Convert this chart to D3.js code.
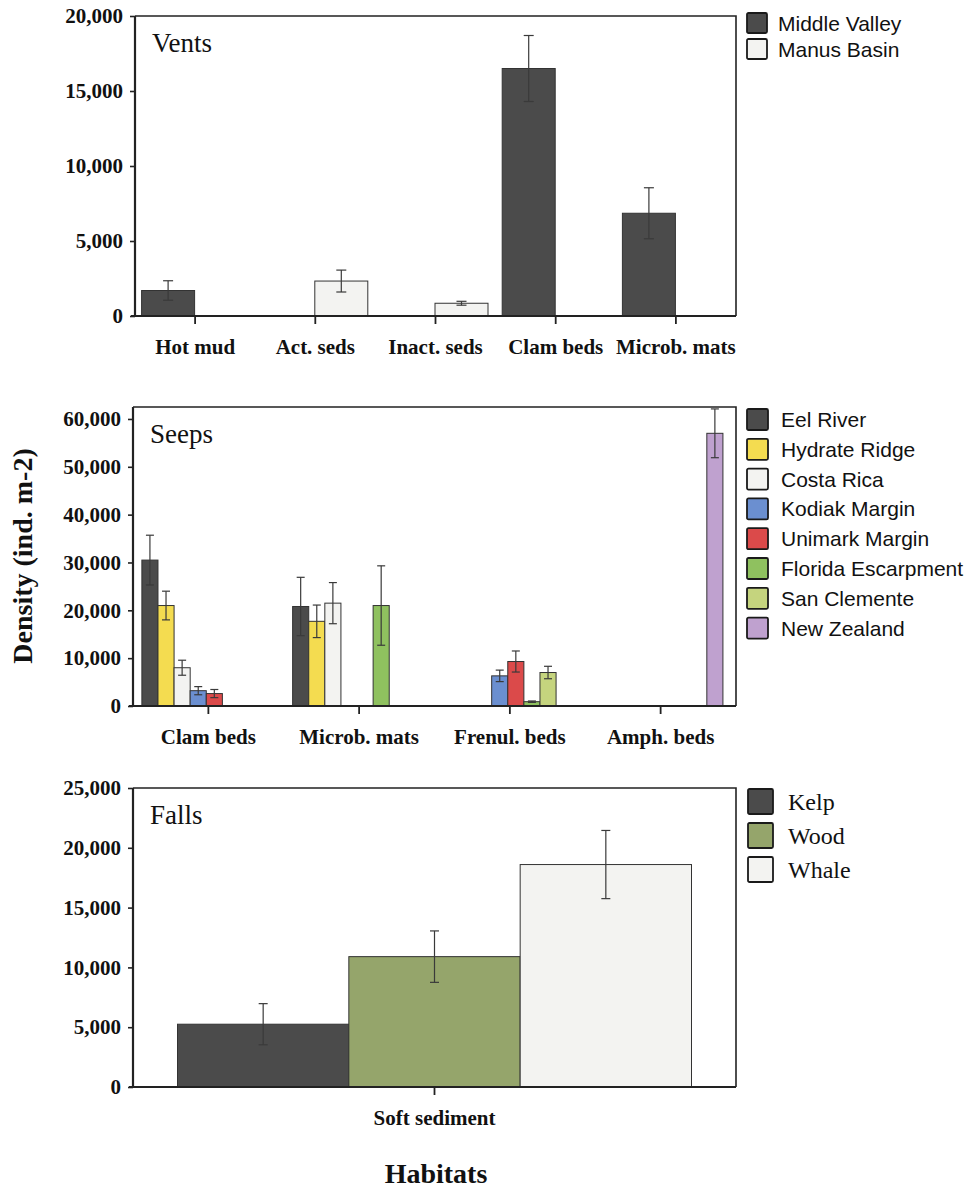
<!DOCTYPE html>
<html>
<head>
<meta charset="utf-8">
<script src="https://cdn.jsdelivr.net/npm/d3@7"></script>
<style>
  body { margin: 0; background: #fff; }
  svg { display: block; }
</style>
</head>
<body>
<script>
// ---- Vents ----
const ventHabitats = ["Hot mud", "Act. seds", "Inact. seds", "Clam beds", "Microb. mats"];
const ventSites = ["Middle Valley", "Manus Basin"];
const ventMiddleValley = [1700, null, null, 16500, 6850];
const ventMiddleValleyErr = [650, null, null, 2200, 1700];
const ventManusBasin = [null, 2330, 850, null, null];
const ventManusBasinErr = [null, 730, 130, null, null];
const ventTicks = [0, 5000, 10000, 15000, 20000];

// ---- Seeps ----
const seepHabitats = ["Clam beds", "Microb. mats", "Frenul. beds", "Amph. beds"];
const seepSites = ["Eel River", "Hydrate Ridge", "Costa Rica", "Kodiak Margin",
                   "Unimark Margin", "Florida Escarpment", "San Clemente", "New Zealand"];
const seepEelRiver = [30500, 20800, null, null];
const seepEelRiverErr = [5200, 6100, null, null];
const seepHydrateRidge = [21000, 17700, null, null];
const seepHydrateRidgeErr = [3000, 3400, null, null];
const seepCostaRica = [8000, 21500, null, null];
const seepCostaRicaErr = [1570, 4300, null, null];
const seepKodiakMargin = [3200, null, 6300, null];
const seepKodiakMarginErr = [850, null, 1200, null];
const seepUnimarkMargin = [2600, null, 9300, null];
const seepUnimarkMarginErr = [850, null, 2200, null];
const seepFloridaEscarpment = [null, 21000, 900, null];
const seepFloridaEscarpmentErr = [null, 8300, 150, null];
const seepSanClemente = [null, null, 7000, null];
const seepSanClementeErr = [null, null, 1300, null];
const seepNewZealand = [null, null, null, 57000];
const seepNewZealandErr = [null, null, null, 5100];
const seepTicks = [0, 10000, 20000, 30000, 40000, 50000, 60000];

// ---- Falls ----
const fallHabitats = ["Soft sediment"];
const fallSites = ["Kelp", "Wood", "Whale"];
const fallKelp = [5250];
const fallKelpErr = [1720];
const fallWood = [10900];
const fallWoodErr = [2150];
const fallWhale = [18600];
const fallWhaleErr = [2850];
const fallTicks = [0, 5000, 10000, 15000, 20000, 25000];

const W = 975, H = 1190;
const SERIF = "'Liberation Serif', 'Times New Roman', serif";
const SANS = "'Liberation Sans', Arial, sans-serif";
const INK = "#222";

const svg = d3.select("body").append("svg")
  .attr("width", W).attr("height", H)
  .attr("viewBox", `0 0 ${W} ${H}`);

function drawPanel(p) {
  const g = svg.append("g");
  const x = d3.scaleBand().domain(p.habitats).range([p.left, p.right]);
  const y = d3.scaleLinear().domain([0, p.yMax]).range([p.bottom, p.top]);
  const x1 = d3.scaleBand().domain(p.sites).range(p.groupRange);

  // rows of {habitat, site, value, err}
  const rows = [];
  p.sites.forEach((s, si) => {
    p.values[si].forEach((v, hi) => {
      if (v != null) rows.push({ habitat: p.habitats[hi], site: s, value: v, err: p.errors[si][hi] });
    });
  });

  // bars
  g.selectAll("rect.bar").data(rows).join("rect")
    .attr("class", "bar")
    .attr("x", d => x(d.habitat) + x.bandwidth() / 2 + x1(d.site))
    .attr("y", d => y(d.value))
    .attr("width", x1.bandwidth())
    .attr("height", d => y(0) - y(d.value))
    .attr("fill", d => p.colors[p.sites.indexOf(d.site)])
    .attr("stroke", "#333")
    .attr("stroke-width", 1);

  // error bars
  const eb = g.selectAll("g.err").data(rows.filter(d => d.err != null)).join("g")
    .attr("class", "err")
    .attr("transform", d => `translate(${x(d.habitat) + x.bandwidth() / 2 + x1(d.site) + x1.bandwidth() / 2},0)`)
    .attr("stroke", "#3a3a3a")
    .attr("stroke-width", 1.2);
  eb.append("line")
    .attr("y1", d => y(d.value + d.err)).attr("y2", d => y(Math.max(0, d.value - d.err)));
  eb.append("line")
    .attr("x1", -p.cap / 2).attr("x2", p.cap / 2)
    .attr("y1", d => y(d.value + d.err)).attr("y2", d => y(d.value + d.err));
  eb.append("line")
    .attr("x1", -p.cap / 2).attr("x2", p.cap / 2)
    .attr("y1", d => y(Math.max(0, d.value - d.err))).attr("y2", d => y(Math.max(0, d.value - d.err)));

  // frame (top and right edges)
  g.append("path")
    .attr("d", `M${p.left},${p.top}H${p.right}V${p.bottom}`)
    .attr("fill", "none").attr("stroke", INK).attr("stroke-width", 1.6);

  // y axis
  const ya = g.append("g").attr("transform", `translate(${p.left},0)`)
    .call(d3.axisLeft(y).tickValues(p.ticks).tickFormat(d3.format(",")).tickSize(5).tickPadding(7));
  ya.select(".domain").attr("d", `M0,${p.top}V${p.bottom}`).attr("stroke", INK).attr("stroke-width", 2.2);
  ya.selectAll(".tick line").attr("stroke", INK).attr("stroke-width", 1.6);
  ya.selectAll(".tick text").attr("fill", "#111")
    .style("font-family", SERIF).style("font-weight", "bold").style("font-size", "21px");

  // x axis
  const xa = g.append("g").attr("transform", `translate(0,${p.bottom})`)
    .call(d3.axisBottom(x).tickSize(8).tickPadding(15));
  xa.select(".domain").attr("d", `M${p.left - 4},0H${p.right}`).attr("stroke", INK).attr("stroke-width", 2.2);
  xa.selectAll(".tick line").attr("stroke", INK).attr("stroke-width", 1.8);
  xa.selectAll(".tick text").attr("fill", "#111")
    .style("font-family", SERIF).style("font-weight", "bold").style("font-size", "21px");

  // panel title
  g.append("text")
    .attr("x", p.left + 17).attr("y", p.top + 36)
    .attr("fill", "#111")
    .style("font-family", SERIF).style("font-size", "27px")
    .text(p.title);

  // legend
  const lg = g.append("g");
  const li = lg.selectAll("g").data(p.sites).join("g")
    .attr("transform", (d, i) => `translate(${p.legend.x},${p.legend.y + i * p.legend.step})`);
  li.append("rect")
    .attr("width", p.legend.size).attr("height", p.legend.size)
    .attr("rx", 1.5)
    .attr("fill", (d, i) => p.colors[i])
    .attr("stroke", "#1a1a1a").attr("stroke-width", 1.8);
  li.append("text")
    .attr("x", p.legend.size + p.legend.gap)
    .attr("y", p.legend.size / 2)
    .attr("dy", "0.36em")
    .attr("fill", "#111")
    .style("font-family", p.legend.font)
    .style("font-size", p.legend.fontSize + "px")
    .text(d => d);
}

const DARK = "#4b4b4b", LIGHT = "#f3f3f1";

drawPanel({
  title: "Vents",
  habitats: ventHabitats, sites: ventSites,
  values: [ventMiddleValley, ventManusBasin],
  errors: [ventMiddleValleyErr, ventManusBasinErr],
  colors: [DARK, LIGHT],
  ticks: ventTicks, yMax: 20000,
  left: 135, right: 736, top: 16, bottom: 316,
  groupRange: [-53.5, 52.5], cap: 10,
  legend: { x: 747, y: 13, step: 26, size: 20, gap: 11, font: SANS, fontSize: 21 }
});

drawPanel({
  title: "Seeps",
  habitats: seepHabitats, sites: seepSites,
  values: [seepEelRiver, seepHydrateRidge, seepCostaRica, seepKodiakMargin,
           seepUnimarkMargin, seepFloridaEscarpment, seepSanClemente, seepNewZealand],
  errors: [seepEelRiverErr, seepHydrateRidgeErr, seepCostaRicaErr, seepKodiakMarginErr,
           seepUnimarkMarginErr, seepFloridaEscarpmentErr, seepSanClementeErr, seepNewZealandErr],
  colors: [DARK, "#f4dc50", LIGHT, "#6b8fd0", "#db4a4a", "#8fc15f", "#c5d47e", "#bfa1cf"],
  ticks: seepTicks, yMax: 62500,
  left: 133, right: 736, top: 407, bottom: 706,
  groupRange: [-66.5, 62.3], cap: 8,
  legend: { x: 747, y: 409, step: 29.8, size: 21, gap: 13, font: SANS, fontSize: 21 }
});

drawPanel({
  title: "Falls",
  habitats: fallHabitats, sites: fallSites,
  values: [fallKelp, fallWood, fallWhale],
  errors: [fallKelpErr, fallWoodErr, fallWhaleErr],
  colors: [DARK, "#95a56b", LIGHT],
  ticks: fallTicks, yMax: 25000,
  left: 133, right: 736, top: 788, bottom: 1087,
  groupRange: [-257, 257], cap: 9,
  legend: { x: 748, y: 789, step: 34, size: 25, gap: 15, font: SERIF, fontSize: 24 }
});

// shared axis titles
svg.append("text")
  .attr("transform", "translate(32,556) rotate(-90)")
  .attr("text-anchor", "middle")
  .attr("fill", "#111")
  .style("font-family", SERIF).style("font-weight", "bold").style("font-size", "28px")
  .text("Density (ind. m-2)");

svg.append("text")
  .attr("x", 436).attr("y", 1183)
  .attr("text-anchor", "middle")
  .attr("fill", "#111")
  .style("font-family", SERIF).style("font-weight", "bold").style("font-size", "28px")
  .text("Habitats");
</script>
</body>
</html>
